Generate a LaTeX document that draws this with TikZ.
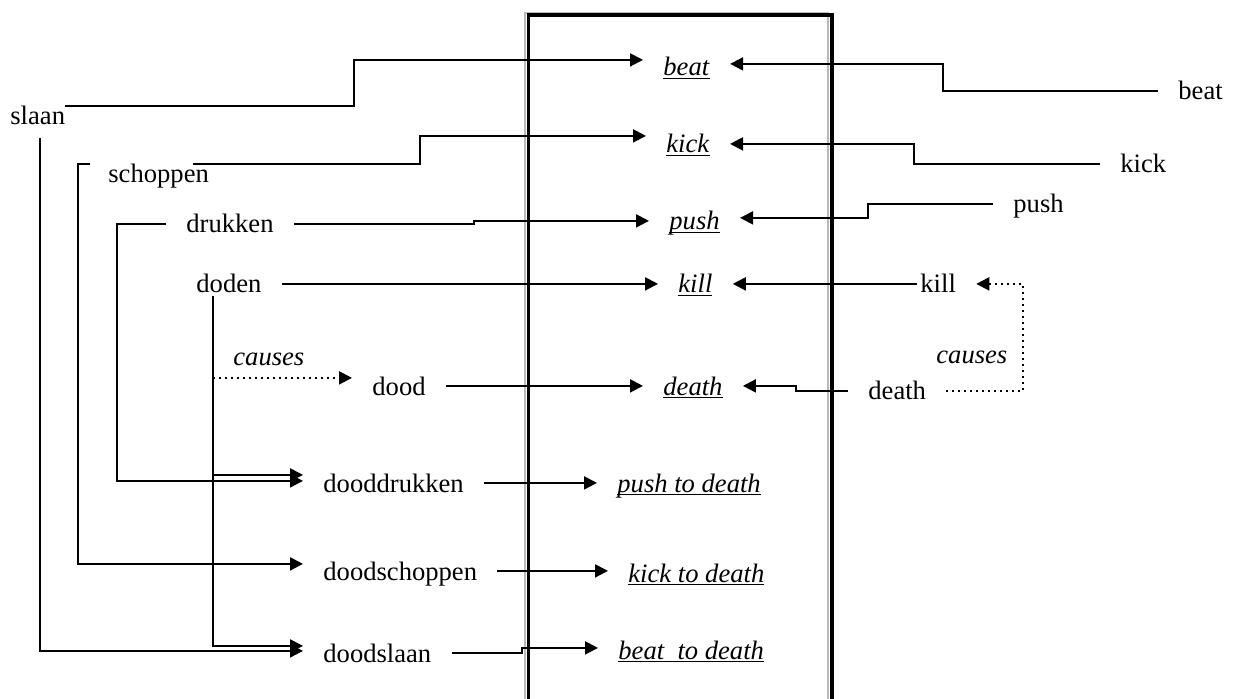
\documentclass[tikz,border=0pt]{standalone}
\usepackage{fontspec}
\setmainfont{Liberation Serif}
\usetikzlibrary{arrows.meta}
\newcommand{\ulword}[1]{\setbox0\hbox{\textit{#1}}\rlap{\smash{\rule[-1.7pt]{\wd0}{0.7pt}}}\box0}

\begin{document}
\begin{tikzpicture}[x=0.5pt,y=-0.5pt,
	word/.style={anchor=base west,inner xsep=10pt,inner ysep=0pt,text height=9.1pt,text depth=0pt,font=\fontsize{13.3}{16}\selectfont},
	link/.style={line width=1pt},
	conn/.style={line width=1pt,-{Triangle[length=6.5pt,width=6.5pt]}},
	cause/.style={line width=1pt,dotted,-{Triangle[length=6.5pt,width=6.5pt]}}]
	\useasboundingbox (0,0) rectangle (1234,699);
	\draw[gray!55,line width=0.8pt] (525,699) -- (525,13) -- (828,13) -- (828,699);
	\draw[line width=1.6pt] (528.5,699) -- (528.5,15) -- (832,15) -- (832,699);

	\node[word,inner xsep=0pt] (slaan) at (10,125){slaan};
	\node[word,inner xsep=9pt] (schoppen) at (90,183){schoppen};
	\node[word] (drukken) at (166,233){drukken};
	\node[word] (doden) at (176,293){doden};
	\node[word] (dood) at (352,395){dood};
	\node[word] (dooddrukken) at (303,492){dooddrukken};
	\node[word] (doodschoppen) at (303,580){doodschoppen};
	\node[word] (doodslaan) at (303,662){doodslaan};
	\node[word,inner xsep=0pt] (causesL) at (233,365){\textit{causes}};

	\node[word] (beatI) at (643,76){\ulword{beat}};
	\node[word] (kickI) at (646,153){\ulword{kick}};
	\node[word] (pushI) at (649,230){\ulword{push}};
	\node[word] (killI) at (658,293){\ulword{kill}};
	\node[word] (deathI) at (643,395){\ulword{death}};
	\node[word] (pushdI) at (597,492){\ulword{push to death}};
	\node[word] (kickdI) at (608,582){\ulword{kick to death}};
	\node[word] (beatdI) at (598,659){\ulword{beat~ to death}};

	\node[word] (beatR) at (1158,100){beat};
	\node[word] (kickR) at (1100,173){kick};
	\node[word] (pushR) at (993,213){push};
	\node[word] (killR) at (900,293){kill};
	\node[word] (deathR) at (848,400){death};
	\node[word,inner xsep=0pt] (causesR) at (936,364){\textit{causes}};

	\coordinate (slaanstem) at (40,138);
	\coordinate (dodenstem) at (213,296);
	\path ([yshift=4pt]dood.west) coordinate (doodin);

	\draw[conn] (slaan.north east) -- ++(289,0) |- ([yshift=3.5pt]beatI.west);
	\draw[conn] ([xshift=-17pt]schoppen.north east) -- ++(227,0) |- ([yshift=4pt]kickI.west);
	\draw[conn] (drukken.east) -- ++(180,0) |- (pushI.west);
	\draw[conn] (doden.east) -- (killI.west);
	\draw[conn] (dood.east) -- (deathI.west);
	\draw[cause] (doodin -| dodenstem) -- (doodin);

	\draw[conn] (slaanstem) |- ([yshift=1pt]doodslaan.west);
	\draw[conn] (dodenstem) |- ([yshift=3.5pt]doodslaan.west);
	\draw[conn] (dodenstem) |- ([yshift=4pt]dooddrukken.west);
	\draw[conn] (schoppen.north west) -- ++(-12,0) |- ([yshift=3.5pt]doodschoppen.west);
	\draw[conn] (drukken.west) -- ++(-49,0) |- ([yshift=1pt]dooddrukken.west);

	\draw[conn] (dooddrukken.east) -- (pushdI.west);
	\draw[conn] (doodschoppen.east) -- (doodschoppen.east -| kickdI.west);
	\draw[conn] (doodslaan.east) -- ++(70,0) |- ([yshift=1pt]beatdI.west);

	\draw[conn] (beatR.west) -- ++(-215,0) |- ([yshift=1.5pt]beatI.east);
	\draw[conn] (kickR.west) -- ++(-186,0) |- (kickI.east);
	\draw[conn] (pushR.west) -- ++(-125,0) |- ([yshift=1.5pt]pushI.east);
	\draw[conn] ([xshift=8.5pt]killR.west) -- (killI.east);
	\draw[conn] (deathR.west) -- ++(-52,0) |- (deathI.east);
	\draw[cause] (deathR.east) -- ++(77,0) |- (killR.east);
\end{tikzpicture}
\end{document}
